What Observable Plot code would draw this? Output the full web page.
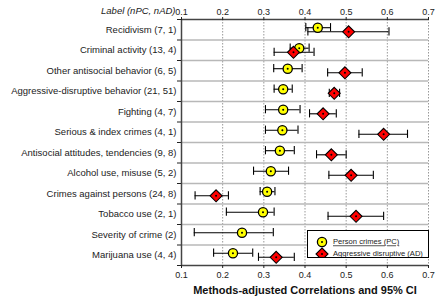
<!DOCTYPE html>
<html>
<head>
<meta charset="utf-8">
<script src="https://cdn.jsdelivr.net/npm/d3@7"></script>
<script src="https://cdn.jsdelivr.net/npm/@observablehq/plot@0.6"></script>
<style>
  html, body { margin: 0; padding: 0; background: white; }
  #wrap { position: relative; width: 437px; height: 299px; font-family: "Liberation Sans", Arial, sans-serif; }
  #legend { position: absolute; left: 307px; top: 230px; width: 122px; height: 28px; border: 1px solid black; background: white; box-sizing: border-box; }
</style>
</head>
<body>
<div id="wrap"></div>
<script>
const labels = [
  "Recidivism (7, 1)",
  "Criminal activity (13, 4)",
  "Other antisocial behavior (6, 5)",
  "Aggressive-disruptive behavior (21, 51)",
  "Fighting (4, 7)",
  "Serious & index crimes (4, 1)",
  "Antisocial attitudes, tendencies (9, 8)",
  "Alcohol use, misuse (5, 2)",
  "Crimes against persons (24, 8)",
  "Tobacco use (2, 1)",
  "Severity of crime (2)",
  "Marijuana use (4, 4)"
];
const pcR  = [0.431, 0.386, 0.358, 0.347, 0.347, 0.345, 0.339, 0.317, 0.308, 0.298, 0.247, 0.225];
const pcLo = [0.402, 0.364, 0.324, 0.325, 0.304, 0.304, 0.304, 0.275, 0.291, 0.209, 0.131, 0.178];
const pcHi = [0.462, 0.410, 0.393, 0.369, 0.388, 0.383, 0.374, 0.360, 0.327, 0.325, 0.323, 0.273];
const adR  = [0.506, 0.372, 0.497, 0.471, 0.444, 0.591, 0.464, 0.512, 0.184, 0.524, null, 0.330];
const adLo = [0.407, 0.325, 0.455, 0.459, 0.411, 0.531, 0.428, 0.458, 0.133, 0.456, null, 0.287];
const adHi = [0.604, 0.422, 0.539, 0.484, 0.476, 0.649, 0.500, 0.566, 0.214, 0.591, null, 0.374];
const xTicks = [0.1, 0.2, 0.3, 0.4, 0.5, 0.6, 0.7];
const legendItems = ["Person crimes (PC)", "Aggressive disruptive (AD)"];
const xTitle = "Methods-adjusted Correlations and 95% CI";
const header = "Label (nPC, nAD)";

const rows = labels.map((label, i) => ({
  label, i,
  pc: pcR[i], pcLo: pcLo[i], pcHi: pcHi[i],
  ad: adR[i], adLo: adLo[i], adHi: adHi[i]
}));
const adRows = rows.filter(d => d.ad != null);
const pcY = d => d.i + 0.4;
const adY = d => d.i + 0.6;

const chart = Plot.plot({
  width: 437, height: 299,
  marginLeft: 181, marginRight: 9, marginTop: 19, marginBottom: 34,
  x: {domain: [0.1, 0.7]},
  y: {domain: [0, labels.length], reverse: true},
  style: {fontFamily: "'Liberation Sans', Arial, sans-serif", fontSize: "9px", color: "#222", background: "white"},
  marks: [
    Plot.gridX(xTicks, {stroke: "#999", strokeDasharray: "1.5,1.5", strokeOpacity: 1}),
    Plot.ruleY(d3.range(1, labels.length), {stroke: "#b8b8b8", strokeWidth: 1.5}),
    Plot.ruleY([0, labels.length], {stroke: "#444", strokeWidth: 1.5}),
    Plot.ruleX([0.1], {stroke: "#444", strokeWidth: 1.5}),
    Plot.axisX(xTicks, {anchor: "top", tickSize: 3, tickPadding: 2, tickFormat: d => d.toFixed(1), label: null}),
    Plot.axisX(xTicks, {anchor: "bottom", tickSize: 3, tickPadding: 3, tickFormat: d => d.toFixed(1), label: null}),
    Plot.axisY(d3.range(0, labels.length + 1), {tickSize: 4, tickFormat: () => "", label: null}),
    Plot.axisY(d3.range(labels.length).map(i => i + 0.5), {tickSize: 0, tickPadding: 5, tickFormat: v => labels[Math.floor(v)], label: null, fontSize: 9.5}),
    // PC error bars
    Plot.ruleY(rows, {y: pcY, x1: "pcLo", x2: "pcHi", stroke: "black", strokeWidth: 1.1}),
    Plot.ruleX(rows, {x: "pcLo", y1: d => d.i + 0.2, y2: d => d.i + 0.6, stroke: "black", strokeWidth: 1.1}),
    Plot.ruleX(rows, {x: "pcHi", y1: d => d.i + 0.2, y2: d => d.i + 0.6, stroke: "black", strokeWidth: 1.1}),
    // AD error bars
    Plot.ruleY(adRows, {y: adY, x1: "adLo", x2: "adHi", stroke: "black", strokeWidth: 1.1}),
    Plot.ruleX(adRows, {x: "adLo", y1: d => d.i + 0.4, y2: d => d.i + 0.8, stroke: "black", strokeWidth: 1.1}),
    Plot.ruleX(adRows, {x: "adHi", y1: d => d.i + 0.4, y2: d => d.i + 0.8, stroke: "black", strokeWidth: 1.1}),
    // markers
    Plot.dot(rows, {x: "pc", y: pcY, r: 4.6, fill: "#ffff00", stroke: "black", strokeWidth: 1.3}),
    Plot.dot(rows, {x: "pc", y: pcY, r: 1, fill: "black"}),
    Plot.dot(adRows, {x: "ad", y: adY, symbol: "diamond2", r: 5.4, fill: "#ff0000", stroke: "black", strokeWidth: 1.1}),
    Plot.dot(adRows, {x: "ad", y: adY, r: 1, fill: "black"}),
    Plot.text([xTitle], {frameAnchor: "bottom", dy: 25, lineAnchor: "middle", fontWeight: "bold", fontSize: 11, fill: "#111"}),
    Plot.text([header], {frameAnchor: "top-left", dx: -6, dy: -9, lineAnchor: "middle", textAnchor: "end", fontStyle: "italic", fontSize: 9.5, ariaLabel: "header"})
  ]
});
d3.select(chart).selectAll('g[aria-label="header"] text').style("text-decoration", "underline");

const wrap = document.getElementById("wrap");
wrap.appendChild(chart);

// legend
const leg = document.createElement("div");
leg.id = "legend";
wrap.appendChild(leg);
const ls = d3.select(leg).append("svg").attr("width", 120).attr("height", 26).style("display", "block");
const rowsY = [11, 23];
ls.append("circle").attr("cx", 14).attr("cy", rowsY[0]).attr("r", 4.6).attr("fill", "#ffff00").attr("stroke", "black").attr("stroke-width", 1.3);
ls.append("circle").attr("cx", 14).attr("cy", rowsY[0]).attr("r", 1).attr("fill", "black");
ls.append("path").attr("d", d3.symbol(d3.symbolDiamond2, Math.PI * 5.4 * 5.4)()).attr("transform", `translate(14,${rowsY[1]})`).attr("fill", "#ff0000").attr("stroke", "black").attr("stroke-width", 1.1);
ls.append("circle").attr("cx", 14).attr("cy", rowsY[1]).attr("r", 1).attr("fill", "black");
legendItems.forEach((t, k) => {
  ls.append("text").attr("x", 25).attr("y", rowsY[k]).attr("dy", "0.32em")
    .style("font-family", "'Liberation Sans', Arial, sans-serif").style("font-size", "7.6px")
    .style("text-decoration", "underline").attr("fill", "#222").text(t);
});
</script>
</body>
</html>
